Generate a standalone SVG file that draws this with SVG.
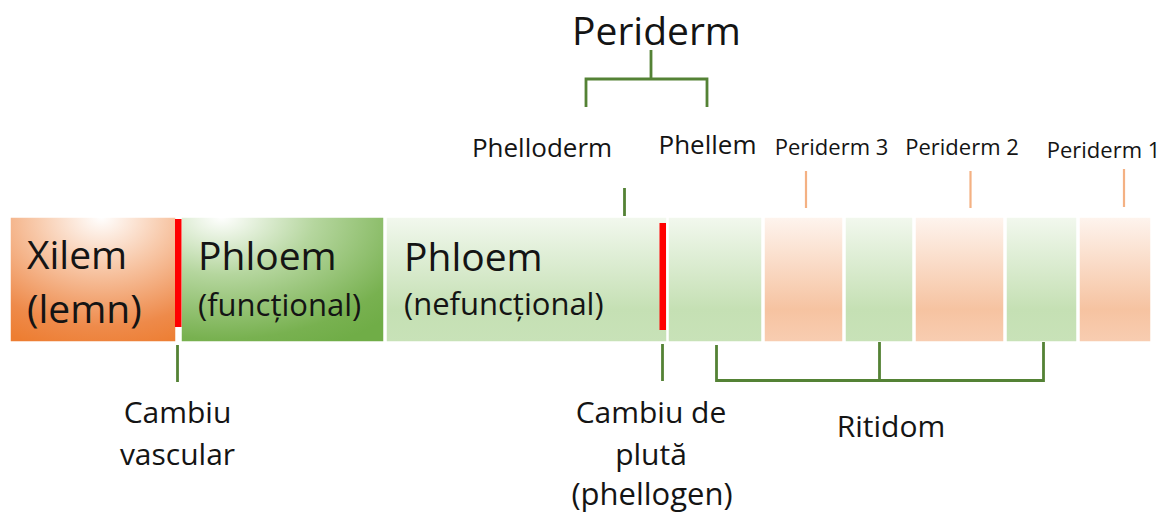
<svg xmlns="http://www.w3.org/2000/svg" width="1165" height="515" viewBox="0 0 1165 515">
<defs>
<radialGradient id="gXil" cx="0.55" cy="0" r="1.1" fx="0.55" fy="0">
<stop offset="0" stop-color="#FFFFFF"/>
<stop offset="0.35" stop-color="#F8CBAD"/>
<stop offset="0.8" stop-color="#EE8A4A"/>
<stop offset="1" stop-color="#ED7D31"/>
</radialGradient>
<radialGradient id="gFun" cx="0.2" cy="0" r="1.15" fx="0.2" fy="0">
<stop offset="0" stop-color="#FFFFFF"/>
<stop offset="0.4" stop-color="#B5D69E"/>
<stop offset="0.85" stop-color="#78B150"/>
<stop offset="1" stop-color="#70AD47"/>
</radialGradient>
<linearGradient id="gGreen" x1="0" y1="0" x2="0" y2="1">
<stop offset="0" stop-color="#F2F8EE"/>
<stop offset="0.74" stop-color="#C5E0B4"/>
<stop offset="1" stop-color="#C8E2B8"/>
</linearGradient>
<linearGradient id="gOrange" x1="0" y1="0" x2="0" y2="1">
<stop offset="0" stop-color="#FEF4EE"/>
<stop offset="0.74" stop-color="#F6C3A1"/>
<stop offset="1" stop-color="#F8CDB1"/>
</linearGradient>
</defs>
<style>
text{font-family:"Open Sans","Liberation Sans",sans-serif;fill:#141414}
.big{font-size:39px}
.sub{font-size:31px}
.lab{font-size:30px}
.mid{font-size:26px}
.sm{font-size:22px}
.c{text-anchor:middle}
.box{stroke:#FFFFFF;stroke-width:1.5}
.red{fill:#FF0000}
.gl{stroke:#548235;stroke-width:2.8;fill:none}
.ol{stroke:#F4B183;stroke-width:2.2;fill:none}
</style>
<rect width="1165" height="515" fill="#FFFFFF"/>
<g id="xilem">
<rect class="box" x="10" y="217" width="166" height="125" fill="url(#gXil)"/>
<text class="big" x="27" y="269">Xilem</text>
<text class="big" x="27" y="323">(lemn)</text>
</g>
<g id="phloem-functional">
<rect class="box" x="181" y="217" width="203" height="125" fill="url(#gFun)"/>
<text class="big" x="198" y="270">Phloem</text>
<text class="sub" x="198" y="316">(funcțional)</text>
</g>
<g id="phloem-nefunctional">
<rect class="box" x="386" y="217" width="281" height="125" fill="url(#gGreen)"/>
<text class="big" x="404" y="271">Phloem</text>
<text class="sub" x="404" y="315">(nefuncțional)</text>
</g>
<g id="cambiu-vascular-bar">
<rect class="red" x="175" y="219" width="6.5" height="108"/>
</g>
<g id="cambiu-pluta-bar">
<rect class="red" x="659.5" y="223" width="6.5" height="107"/>
</g>
<g id="ritidom-layers">
<rect class="box" x="668" y="217" width="94" height="125" fill="url(#gGreen)"/>
<rect class="box" x="764" y="217" width="79" height="125" fill="url(#gOrange)"/>
<rect class="box" x="845" y="217" width="68" height="125" fill="url(#gGreen)"/>
<rect class="box" x="915" y="217" width="89" height="125" fill="url(#gOrange)"/>
<rect class="box" x="1006" y="217" width="71" height="125" fill="url(#gGreen)"/>
<rect class="box" x="1079" y="217" width="72" height="125" fill="url(#gOrange)"/>
</g>
<g id="connectors">
<path class="gl" d="M651 50 V79 M586 107 V79 H707 V107"/>
<path class="gl" d="M624.5 188 V216"/>
<path class="gl" d="M177.5 345 V382"/>
<path class="gl" d="M662.5 344 V381"/>
<path class="gl" d="M716.5 345 V380.5 H1043.5 V342 M879.5 342 V380.5"/>
<path class="ol" d="M806 171 V208 M970.5 171 V208 M1124 169 V207"/>
</g>
<g id="periderm-title">
<text class="c" style="font-size:39px" x="656.5" y="45">Periderm</text>
</g>
<g id="phelloderm">
<text class="c mid" x="542" y="157">Phelloderm</text>
</g>
<g id="phellem">
<text class="c mid" x="707.5" y="154">Phellem</text>
</g>
<g id="periderm-3">
<text class="c sm" x="831.5" y="155">Periderm 3</text>
</g>
<g id="periderm-2">
<text class="c sm" x="962" y="155">Periderm 2</text>
</g>
<g id="periderm-1">
<text class="c sm" x="1103.5" y="158">Periderm 1</text>
</g>
<g id="cambiu-vascular">
<text class="c lab" x="177.5" y="423">Cambiu</text>
<text class="c lab" x="177.5" y="465">vascular</text>
</g>
<g id="cambiu-pluta">
<text class="c lab" x="651" y="423">Cambiu de</text>
<text class="c lab" x="651" y="465">plută</text>
<text class="c sub" x="652" y="505">(phellogen)</text>
</g>
<g id="ritidom">
<text class="c lab" x="891" y="437">Ritidom</text>
</g>
</svg>
